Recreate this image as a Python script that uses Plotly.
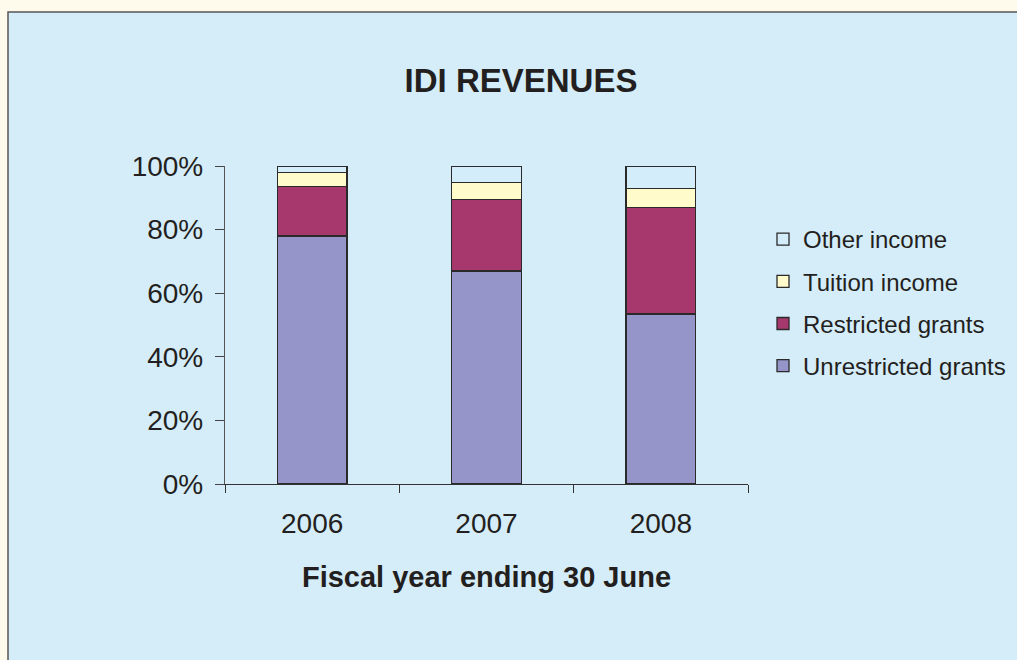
import plotly.graph_objects as go

years = ["2006", "2007", "2008"]
unrestricted = [78.0, 67.0, 53.5]
restricted = [15.5, 22.5, 33.5]
tuition = [4.5, 5.3, 5.9]
other = [2.0, 5.2, 7.1]
y_ticks = [0, 20, 40, 60, 80, 100]
y_labels = ["0%", "20%", "40%", "60%", "80%", "100%"]

series = [
    ("Unrestricted grants", unrestricted, "#9595C9"),
    ("Restricted grants", restricted, "#A6386E"),
    ("Tuition income", tuition, "#FFFBCB"),
    ("Other income", other, "#D3EEFA"),
]

fig = go.Figure()
for i, (name, vals, color) in enumerate(series):
    fig.add_trace(
        go.Bar(
            x=years,
            y=vals,
            name=name,
            legendgroup=f"g{i}",
            legendrank=len(series) - i,
            marker=dict(color=color, line=dict(color="#2a2a2a", width=1.3)),
            width=0.4,
        )
    )

# plot area in pixels: x 225..748, y 166..484
W, H = 1017, 660
L, R, T, B = 225, 748, 166, 484
pw, ph = R - L, B - T


def px(x):
    return (x - L) / pw


def py(y):
    return (B - y) / ph


font = "Liberation Sans, Arial, sans-serif"

fig.update_layout(
    width=W,
    height=H,
    margin=dict(l=L, r=W - R, t=T, b=H - B, pad=0, autoexpand=False),
    paper_bgcolor="#FFFBEC",
    plot_bgcolor="rgba(0,0,0,0)",
    barmode="stack",
    font=dict(family=font, color="#231f20"),
    title=dict(
        text="<b>IDI REVENUES</b>",
        font=dict(size=33, family=font, color="#231f20"),
        x=521 / W,
        xanchor="center",
        y=1 - 80 / H,
        yanchor="middle",
    ),
    legend=dict(
        x=px(763),
        xanchor="left",
        y=py(217),
        yanchor="top",
        traceorder="grouped",
        tracegroupgap=8,
        font=dict(size=24, family=font, color="#231f20"),
        bgcolor="rgba(0,0,0,0)",
    ),
    shapes=[
        dict(
            type="rect",
            xref="paper",
            yref="paper",
            x0=px(8),
            x1=px(1030),
            y0=py(680),
            y1=py(12),
            fillcolor="#D5ECF9",
            line=dict(color="#555555", width=1.5),
            layer="below",
        )
    ],
)

fig.update_xaxes(
    showline=True,
    linecolor="#333333",
    linewidth=1.3,
    ticks="outside",
    tickson="boundaries",
    ticklen=8,
    tickcolor="#333333",
    ticklabelstandoff=14,
    tickfont=dict(size=28, family=font, color="#231f20"),
    title=dict(
        text="<b>Fiscal year ending 30 June</b>",
        font=dict(size=29, family=font, color="#231f20"),
        standoff=28,
    ),
    showgrid=False,
)

fig.update_yaxes(
    range=[0, 100],
    tickvals=y_ticks,
    ticktext=y_labels,
    showline=True,
    linecolor="#555555",
    linewidth=1.3,
    ticks="outside",
    ticklen=9,
    tickcolor="#444444",
    ticklabelstandoff=6,
    tickfont=dict(size=28, family=font, color="#231f20"),
    showgrid=False,
    zeroline=False,
)

fig.write_html(
    "out.html",
    config={"displayModeBar": False},
    post_script="document.body.style.margin='0px';",
)
